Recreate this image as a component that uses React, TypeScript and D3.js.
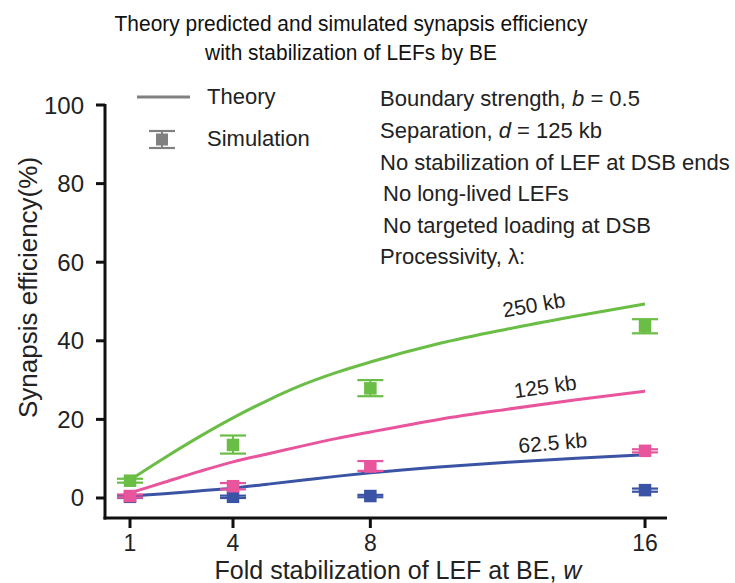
import React from "react";
import * as d3 from "d3";

const FONT = "'Liberation Sans', Arial, Helvetica, sans-serif";

// Theory curves
const wTheory = [1, 2, 3, 4, 5, 6, 7, 8, 10, 12, 14, 16];
const theory250 = [4.6, 10.2, 15.5, 20.4, 24.8, 28.7, 31.9, 34.6, 39.3, 43.0, 46.3, 49.4];
const theory125 = [1.3, 4.0, 6.7, 9.2, 11.2, 13.2, 15.1, 16.8, 20.0, 22.6, 25.0, 27.2];
const theory62 = [0.5, 1.1, 1.8, 2.5, 3.5, 4.5, 5.5, 6.4, 7.9, 9.1, 10.1, 11.0];

// Simulations
const wSim = [1, 4, 8, 16];
const sim250 = [4.4, 13.5, 27.9, 43.7];
const sim250Lo = [3.9, 11.3, 25.9, 41.9];
const sim250Hi = [4.9, 15.9, 30.0, 45.5];
const sim125 = [0.5, 3.0, 8.0, 12.0];
const sim125Lo = [0.1, 2.2, 6.9, 11.6];
const sim125Hi = [0.9, 3.8, 9.4, 12.4];
const sim62 = [0.3, 0.3, 0.5, 2.0];
const sim62Lo = [0.0, 0.0, 0.2, 1.6];
const sim62Hi = [0.6, 0.6, 0.8, 2.4];

const xTicks = [1, 4, 8, 16];
const yTicks = [0, 20, 40, 60, 80, 100];

const titleLines = [
  "Theory predicted and simulated synapsis efficiency",
  "with stabilization of LEFs by BE",
];

const seriesNames = ["62.5 kb", "250 kb", "125 kb"];
const seriesColors = ["#3a53a4", "#6abd45", "#e9559d"];
// label anchors (w, value, rotation)
const labelW = [13.33, 12.8, 13.12];
const labelV = [12.2, 47.3, 26.5];
const labelRot = [-5, -10, -8];

export default function App() {
  const x = d3.scaleLinear().domain([0.272, 16.64]).range([105, 667]);
  const y = d3.scaleLinear().domain([-5.09, 100]).range([518, 105]);

  const line = d3
    .line<[number, number]>()
    .x((d) => x(d[0]))
    .y((d) => y(d[1]))
    .curve(d3.curveMonotoneX);

  const theories = [theory62, theory250, theory125];
  const sims = [
    [sim62, sim62Lo, sim62Hi],
    [sim250, sim250Lo, sim250Hi],
    [sim125, sim125Lo, sim125Hi],
  ];

  const sq = 12.5;
  const cap = 13;

  return (
    <svg
      width={735}
      height={583}
      style={{ position: "absolute", left: 0, top: 0, display: "block", background: "#fff" }}
      fontFamily={FONT}
    >
      <rect x={0} y={0} width={735} height={583} fill="#fff" />
      {/* Title */}
      {titleLines.map((t, i) => (
        <text
          key={i}
          transform={`translate(351, ${31 + i * 29}) scale(0.93, 1)`}
          textAnchor="middle"
          fontSize={22.5}
          fill="#111"
        >
          {t}
        </text>
      ))}

      {/* Axes */}
      <line x1={105} x2={105} y1={y(100) - 1} y2={519.5} stroke="#111" strokeWidth={3} />
      <line x1={103.5} x2={667} y1={518} y2={518} stroke="#111" strokeWidth={3} />
      {yTicks.map((t) => (
        <g key={t}>
          <line x1={96} x2={105} y1={y(t)} y2={y(t)} stroke="#111" strokeWidth={3} />
          <text x={84} y={y(t) + 8.5} textAnchor="end" fontSize={24} fill="#222">
            {t}
          </text>
        </g>
      ))}
      {xTicks.map((t) => (
        <g key={t}>
          <line x1={x(t)} x2={x(t)} y1={518} y2={528} stroke="#111" strokeWidth={3} />
          <text x={x(t)} y={551} textAnchor="middle" fontSize={23} fill="#222">
            {t}
          </text>
        </g>
      ))}
      <text x={398} y={578.5} textAnchor="middle" fontSize={25} fill="#222">
        Fold stabilization of LEF at BE, <tspan fontStyle="italic">w</tspan>
      </text>
      <text
        transform={`translate(37, ${287.5}) rotate(-90)`}
        textAnchor="middle"
        fontSize={26}
        fill="#222"
      >
        Synapsis efficiency(%)
      </text>

      {/* Theory lines */}
      {theories.map((vals, i) => (
        <path
          key={i}
          d={line(wTheory.map((w, j) => [w, vals[j]] as [number, number])) || ""}
          fill="none"
          stroke={seriesColors[i]}
          strokeWidth={3}
        />
      ))}

      {/* Simulation markers */}
      {sims.map(([m, lo, hi], i) => (
        <g key={i} stroke={seriesColors[i]} fill={seriesColors[i]}>
          {wSim.map((w, j) => (
            <g key={j}>
              <line x1={x(w)} x2={x(w)} y1={y(lo[j])} y2={y(hi[j])} strokeWidth={2} />
              <line x1={x(w) - cap} x2={x(w) + cap} y1={y(lo[j])} y2={y(lo[j])} strokeWidth={2.2} />
              <line x1={x(w) - cap} x2={x(w) + cap} y1={y(hi[j])} y2={y(hi[j])} strokeWidth={2.2} />
              <rect x={x(w) - sq / 2} y={y(m[j]) - sq / 2} width={sq} height={sq} stroke="none" />
            </g>
          ))}
        </g>
      ))}

      {/* Curve labels */}
      {seriesNames.map((n, i) => (
        <text
          key={n}
          transform={`translate(${x(labelW[i])}, ${y(labelV[i])}) rotate(${labelRot[i]})`}
          textAnchor="middle"
          fontSize={21}
          fill="#222"
        >
          {n}
        </text>
      ))}

      {/* Legend */}
      <line x1={137} x2={190} y1={97} y2={97} stroke="#808080" strokeWidth={3} />
      <text x={207} y={104} fontSize={22} fill="#222">Theory</text>
      <g stroke="#808080" fill="#808080">
        <line x1={162} x2={162} y1={131} y2={148} strokeWidth={2} />
        <line x1={149} x2={175} y1={131} y2={131} strokeWidth={2.2} />
        <line x1={149} x2={175} y1={148} y2={148} strokeWidth={2.2} />
        <rect x={156} y={133.5} width={12} height={12} stroke="none" />
      </g>
      <text x={207} y={146} fontSize={22} fill="#222">Simulation</text>

      {/* Annotations */}
      <g fontSize={22} fill="#222">
        <text x={380} y={106}>
          Boundary strength, <tspan fontStyle="italic">b</tspan> = 0.5
        </text>
        <text x={380} y={138}>
          Separation, <tspan fontStyle="italic">d</tspan> = 125 kb
        </text>
        <text x={380} y={170}>No stabilization of LEF at DSB ends</text>
        <text x={383} y={201}>No long-lived LEFs</text>
        <text x={383} y={233}>No targeted loading at DSB</text>
        <text x={380} y={264}>Processivity, λ:</text>
      </g>
    </svg>
  );
}
